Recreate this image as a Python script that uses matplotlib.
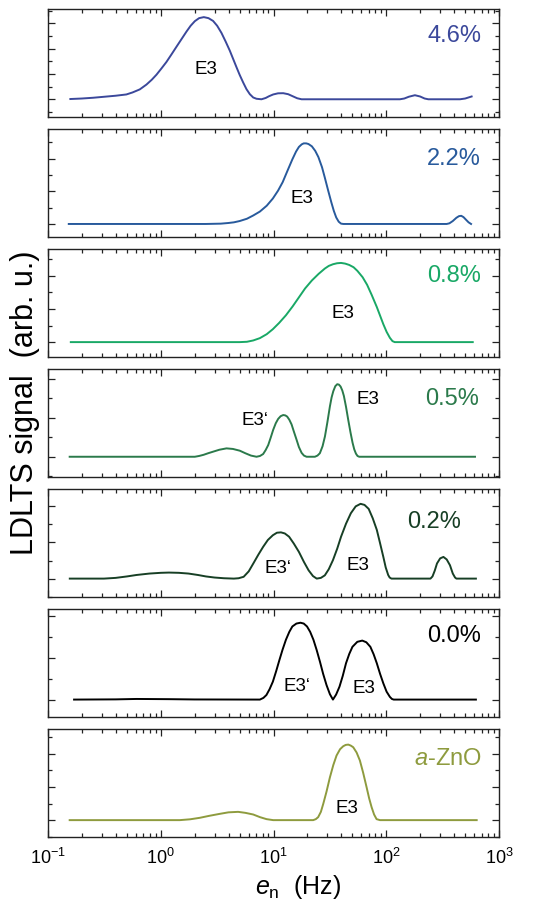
import numpy as np
import matplotlib
matplotlib.use("Agg")
import matplotlib.pyplot as plt
from matplotlib.ticker import MultipleLocator, NullFormatter, LogLocator

plt.rcParams['font.family'] = ['Liberation Sans', 'DejaVu Sans']
plt.rcParams['mathtext.fontset'] = 'custom'
plt.rcParams['mathtext.rm'] = 'Liberation Sans'
plt.rcParams['mathtext.it'] = 'Liberation Sans:italic'
plt.rcParams['mathtext.bf'] = 'Liberation Sans:bold'

# sample names (top to bottom)
samples = ["4.6%", "2.2%", "0.8%", "0.5%", "0.2%", "0.0%", "$a$-ZnO"]

# log10(e_n / Hz) and signal (arb. u.)
x_46 = [-0.802, -0.70, -0.60, -0.50, -0.40, -0.305, -0.25, -0.186, -0.127, -0.08,
        -0.038, 0.005, 0.050, 0.095, 0.139, 0.185, 0.228, 0.265, 0.302, 0.340,
        0.382, 0.423, 0.464, 0.50, 0.538, 0.575, 0.612, 0.642, 0.672, 0.70,
        0.731, 0.760, 0.790, 0.820, 0.849, 0.893, 0.93, 0.96, 0.997, 1.04,
        1.086, 1.13, 1.175, 1.21, 1.249, 2.121, 2.16, 2.20, 2.254, 2.30,
        2.34, 2.373, 2.654, 2.70, 2.757]
y_46 = [0.01, 0.03, 0.06, 0.10, 0.14, 0.19, 0.27, 0.39, 0.58, 0.77,
        0.97, 1.21, 1.47, 1.77, 2.07, 2.38, 2.67, 2.90, 3.08, 3.20,
        3.24, 3.20, 3.09, 2.90, 2.62, 2.28, 1.92, 1.59, 1.26, 0.96,
        0.66, 0.40, 0.20, 0.07, 0.02, 0.0, 0.05, 0.12, 0.19, 0.235,
        0.24, 0.20, 0.11, 0.04, 0.0, 0.0, 0.03, 0.10, 0.16, 0.11,
        0.03, 0.0, 0.0, 0.03, 0.11]

x_22 = [-0.816, 0.40, 0.533, 0.60, 0.648, 0.70, 0.764, 0.82, 0.879, 0.94,
        0.994, 1.04, 1.081, 1.12, 1.167, 1.20, 1.225, 1.25, 1.268, 1.29,
        1.310, 1.340, 1.37, 1.398, 1.43, 1.455, 1.485, 1.513, 1.535, 1.556,
        1.578, 1.599, 1.62, 2.536, 2.56, 2.59, 2.622, 2.645, 2.665, 2.685,
        2.71, 2.73, 2.752]
y_22 = [0, 0, 0.01, 0.03, 0.05, 0.09, 0.16, 0.26, 0.38, 0.56,
        0.78, 1.02, 1.28, 1.60, 1.98, 2.22, 2.36, 2.44, 2.47, 2.47,
        2.45, 2.38, 2.24, 2.05, 1.74, 1.42, 1.02, 0.66, 0.40, 0.20,
        0.07, 0.01, 0, 0, 0.02, 0.09, 0.19, 0.24, 0.25, 0.21,
        0.12, 0.05, 0]

x_08 = [-0.798, 0.70, 0.764, 0.82, 0.879, 0.94, 0.994, 1.05, 1.110, 1.17,
        1.225, 1.28, 1.340, 1.40, 1.455, 1.49, 1.527, 1.563, 1.599, 1.635,
        1.671, 1.71, 1.744, 1.79, 1.830, 1.87, 1.916, 1.945, 1.974, 2.003,
        2.032, 2.055, 2.075, 2.767]
y_08 = [0, 0, 0.01, 0.05, 0.12, 0.24, 0.39, 0.58, 0.81, 1.08,
        1.35, 1.62, 1.86, 2.06, 2.22, 2.30, 2.35, 2.38, 2.39, 2.37,
        2.33, 2.26, 2.15, 1.96, 1.73, 1.43, 1.06, 0.80, 0.54, 0.31,
        0.13, 0.03, 0, 0]

x_05 = [-0.808, 0.302, 0.34, 0.38, 0.42, 0.464, 0.52, 0.583, 0.64, 0.701,
        0.75, 0.80, 0.849, 0.88, 0.908, 0.93, 0.953, 0.975, 0.997, 1.02,
        1.041, 1.063, 1.086, 1.105, 1.121, 1.14, 1.160, 1.18, 1.204, 1.225,
        1.249, 1.27, 1.293, 1.367, 1.39, 1.411, 1.435, 1.456, 1.478, 1.500,
        1.515, 1.530, 1.548, 1.565, 1.58, 1.595, 1.61, 1.624, 1.643, 1.663,
        1.683, 1.701, 1.716, 1.731, 1.745, 1.760, 2.787]
y_05 = [0, 0, 0.02, 0.05, 0.09, 0.13, 0.18, 0.215, 0.20, 0.155,
        0.09, 0.03, 0.0, 0.02, 0.07, 0.17, 0.30, 0.49, 0.69, 0.86,
        0.97, 1.04, 1.07, 1.06, 1.03, 0.95, 0.83, 0.65, 0.44, 0.25,
        0.10, 0.03, 0, 0, 0.03, 0.09, 0.27, 0.52, 0.89, 1.29,
        1.52, 1.68, 1.81, 1.86, 1.85, 1.80, 1.70, 1.56, 1.28, 0.94,
        0.62, 0.36, 0.19, 0.08, 0.02, 0, 0]

x_02 = [-0.807, -0.504, -0.40, -0.30, -0.216, -0.10, 0.0, 0.072, 0.16, 0.245,
        0.33, 0.40, 0.476, 0.56, 0.648, 0.69, 0.735, 0.78, 0.821, 0.865,
        0.908, 0.95, 0.994, 1.03, 1.066, 1.10, 1.138, 1.18, 1.225, 1.27,
        1.311, 1.35, 1.383, 1.42, 1.455, 1.49, 1.527, 1.565, 1.599, 1.643,
        1.686, 1.729, 1.772, 1.807, 1.844, 1.88, 1.916, 1.945, 1.974, 1.995,
        2.017, 2.03, 2.046, 2.392, 2.41, 2.43, 2.45, 2.478, 2.507, 2.536,
        2.565, 2.59, 2.61, 2.622, 2.795]
y_02 = [0, 0, 0.02, 0.06, 0.10, 0.14, 0.16, 0.167, 0.16, 0.14,
        0.10, 0.06, 0.03, 0.01, 0, 0.01, 0.05, 0.20, 0.42, 0.66,
        0.88, 1.07, 1.20, 1.27, 1.28, 1.25, 1.16, 0.97, 0.74, 0.46,
        0.23, 0.07, 0, 0.02, 0.09, 0.26, 0.51, 0.83, 1.16, 1.52,
        1.81, 2.0, 2.07, 2.04, 1.93, 1.67, 1.35, 0.98, 0.60, 0.31,
        0.10, 0.03, 0, 0, 0.06, 0.22, 0.42, 0.56, 0.60, 0.53,
        0.37, 0.14, 0.03, 0, 0]

x_00 = [-0.769, -0.40, -0.216, 0.072, 0.30, 0.879, 0.91, 0.937, 0.965, 0.994,
        1.023, 1.052, 1.08, 1.110, 1.14, 1.167, 1.203, 1.239, 1.268, 1.297,
        1.325, 1.354, 1.383, 1.412, 1.44, 1.470, 1.50, 1.527, 1.555, 1.585,
        1.614, 1.643, 1.672, 1.700, 1.743, 1.787, 1.823, 1.859, 1.888, 1.916,
        1.945, 1.974, 2.003, 2.032, 2.05, 2.066, 2.795]
y_00 = [0, 0.005, 0.015, 0.01, 0.003, 0, 0.04, 0.11, 0.25, 0.43,
        0.68, 0.95, 1.20, 1.44, 1.63, 1.76, 1.83, 1.85, 1.83, 1.76,
        1.63, 1.44, 1.19, 0.91, 0.62, 0.35, 0.13, 0, 0.12, 0.31,
        0.57, 0.875, 1.10, 1.27, 1.39, 1.42, 1.38, 1.27, 1.09, 0.875,
        0.62, 0.39, 0.19, 0.065, 0.015, 0, 0]

x_zno = [-0.808, 0.169, 0.26, 0.346, 0.43, 0.524, 0.60, 0.686, 0.75, 0.820,
         0.88, 0.938, 0.997, 1.352, 1.375, 1.396, 1.42, 1.441, 1.47, 1.500,
         1.53, 1.559, 1.59, 1.618, 1.640, 1.663, 1.685, 1.707, 1.737, 1.766,
         1.795, 1.825, 1.848, 1.870, 1.892, 1.914, 1.944, 2.802]
y_zno = [0, 0, 0.025, 0.07, 0.13, 0.19, 0.235, 0.25, 0.22, 0.17,
         0.09, 0.03, 0, 0, 0.03, 0.09, 0.25, 0.49, 0.86, 1.29,
         1.66, 1.95, 2.14, 2.23, 2.27, 2.28, 2.25, 2.20, 2.04, 1.80,
         1.43, 1.00, 0.66, 0.39, 0.17, 0.03, 0, 0]

xs = [x_46, x_22, x_08, x_05, x_02, x_00, x_zno]
ys = [y_46, y_22, y_08, y_05, y_02, y_00, y_zno]

# peak labels: (text, log10 e_n, y)
peaks = [
    [("E3", 0.401, 1.17)],
    [("E3", 1.254, 0.78)],
    [("E3", 1.620, 0.875)],
    [("E3\u2018", 0.834, 0.92), ("E3", 1.840, 1.48)],
    [("E3\u2018", 1.037, 0.27), ("E3", 1.752, 0.36)],
    [("E3\u2018", 1.210, 0.32), ("E3", 1.801, 0.27)],
    [("E3", 1.648, 0.36)],
]

colors = ["#3B489B", "#285A9C", "#19A866", "#2B7A4B", "#173F25", "#000000", "#8E9B3E"]
ylims = [(-0.70, 3.56), (-0.40, 2.91), (-0.45, 2.81), (-0.52, 2.25),
         (-0.51, 2.48), (-0.42, 2.18), (-0.51, 2.75)]
name_pos = [(2.848, 2.5), (2.839, 2.0), (2.839, 2.0), (2.822, 1.48),
            (2.666, 1.58), (2.839, 1.52), (2.846, 1.85)]

fig = plt.figure(figsize=(5.36, 9.01), dpi=100)
gs = fig.add_gridspec(7, 1, left=0.0896, right=0.931, top=0.990, bottom=0.071, hspace=0.111)

axes = []
for i in range(7):
    ax = fig.add_subplot(gs[i], sharex=axes[0] if axes else None)
    axes.append(ax)
    ax.plot(10 ** np.array(xs[i]), ys[i], color=colors[i], lw=1.4)
    ax.set_xscale("log")
    ax.set_xlim(0.1, 1000)
    ax.set_ylim(*ylims[i])
    ax.yaxis.set_major_locator(MultipleLocator(1))
    ax.yaxis.set_minor_locator(MultipleLocator(0.5))
    ax.yaxis.set_major_formatter(NullFormatter())
    ax.xaxis.set_minor_locator(LogLocator(base=10, subs=np.arange(2, 10)))
    ax.xaxis.set_minor_formatter(NullFormatter())
    ax.tick_params(which="both", direction="in", top=True, right=True, width=0.9, color="#222222")
    ax.tick_params(which="major", length=5)
    ax.tick_params(which="minor", length=2.8)
    for s in ax.spines.values():
        s.set_linewidth(1.0)
        s.set_color("#222222")
    if i < 6:
        ax.tick_params(labelbottom=False)
    nx, ny = name_pos[i]
    ax.text(10 ** nx, ny, samples[i], color=colors[i], fontsize=17, ha="right", va="center")
    for txt, px, py in peaks[i]:
        ax.text(10 ** px, py, txt, fontsize=13.5, ha="center", va="center")

axes[-1].tick_params(axis="x", labelsize=13, pad=8)
axes[-1].set_xlabel(r"$\mathit{e}_\mathrm{n}$  (Hz)", fontsize=18)
axes[-1].xaxis.set_label_coords(0.555, -0.33)
fig.text(0.046, 0.553, "LDLTS signal  (arb. u.)", rotation=90, fontsize=22, ha="center", va="center")

fig.savefig("out.png", dpi=100)
